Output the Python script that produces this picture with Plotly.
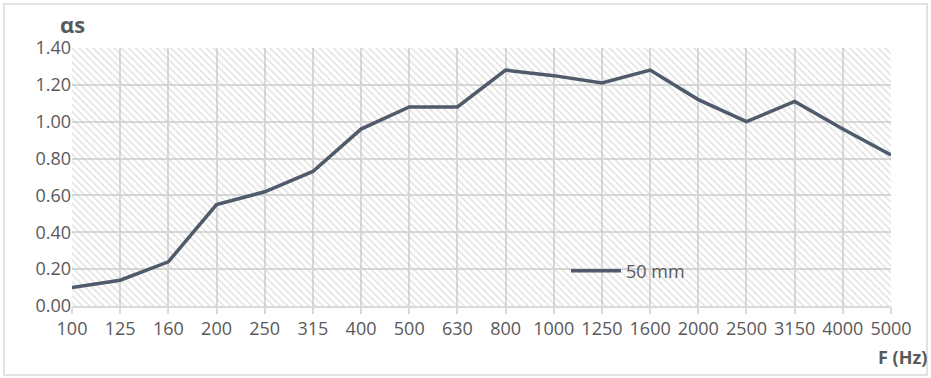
import plotly.graph_objects as go

freq_labels = ["100", "125", "160", "200", "250", "315", "400", "500", "630", "800",
               "1000", "1250", "1600", "2000", "2500", "3150", "4000", "5000"]
alpha_50mm = [0.10, 0.14, 0.24, 0.55, 0.62, 0.73, 0.96, 1.08, 1.08, 1.28,
              1.25, 1.21, 1.28, 1.12, 1.00, 1.11, 0.96, 0.82]
y_ticks = [0.0, 0.2, 0.4, 0.6, 0.8, 1.0, 1.2, 1.4]
series_name = "50 mm"

W, H = 931, 378
ML, MR, MT, MB = 72, 40, 48, 72
PW, PH = W - ML - MR, H - MT - MB

def px_x(p):
    return (p - ML) / PW

def px_y(p):
    return (H - MB - p) / PH

txt = "#595959"
grid = "#d9d9d9"
font = "Open Sans"

fig = go.Figure()

# hatched plot-area background
fig.add_trace(go.Scatter(
    x=[freq_labels[0], freq_labels[-1], freq_labels[-1], freq_labels[0], freq_labels[0]],
    y=[y_ticks[0], y_ticks[0], y_ticks[-1], y_ticks[-1], y_ticks[0]],
    mode="none", fill="toself", fillcolor="rgba(0,0,0,0)",
    fillpattern=dict(shape="\\", size=5, solidity=0.3, fgcolor="#c4c4c4",
                     bgcolor="rgba(0,0,0,0)"),
    showlegend=False, hoverinfo="skip"))

fig.add_trace(go.Scatter(
    x=freq_labels, y=alpha_50mm, mode="lines", name=series_name,
    line=dict(color="#4f5b6b", width=3.5)))

fig.update_layout(
    width=W, height=H,
    margin=dict(l=ML, r=MR, t=MT, b=MB),
    paper_bgcolor="white", plot_bgcolor="white",
    font=dict(family=font, size=18, color=txt),
    legend=dict(x=px_x(566), y=px_y(271), xanchor="left", yanchor="middle",
                bgcolor="rgba(0,0,0,0)", font=dict(size=18, color=txt),
                itemwidth=50),
    xaxis=dict(type="category", categoryorder="array", categoryarray=freq_labels,
               range=[0, len(freq_labels) - 1], showgrid=True, gridcolor=grid,
               gridwidth=1.5, showline=True, linecolor=grid, linewidth=1.5,
               ticks="outside", ticklen=6, tickcolor=grid, tickwidth=1.5,
               tickfont=dict(size=18, color=txt), zeroline=False),
    yaxis=dict(range=[y_ticks[0], y_ticks[-1]], tickvals=y_ticks, tickformat=".2f",
               showgrid=True, gridcolor=grid, gridwidth=1.5, zeroline=False,
               showline=False, ticks="", tickfont=dict(size=18, color=txt)),
    shapes=[dict(type="rect", xref="paper", yref="paper",
                 x0=px_x(4), x1=px_x(927), y0=px_y(375), y1=px_y(4),
                 line=dict(color=grid, width=1.5), fillcolor="rgba(0,0,0,0)")],
    annotations=[
        dict(text="<b>αs</b>", xref="paper", yref="paper", x=px_x(72), y=px_y(24),
             xanchor="center", yanchor="middle", showarrow=False,
             font=dict(size=22, color=txt, family=font)),
        dict(text="<b>F (Hz)</b>", xref="paper", yref="paper", x=px_x(929), y=px_y(357),
             xanchor="right", yanchor="middle", showarrow=False,
             font=dict(size=18, color=txt, family=font)),
    ],
)

fig.write_html("out.html", config={"displayModeBar": False},
               post_script="document.body.style.margin='0px';document.body.style.overflow='hidden';")
